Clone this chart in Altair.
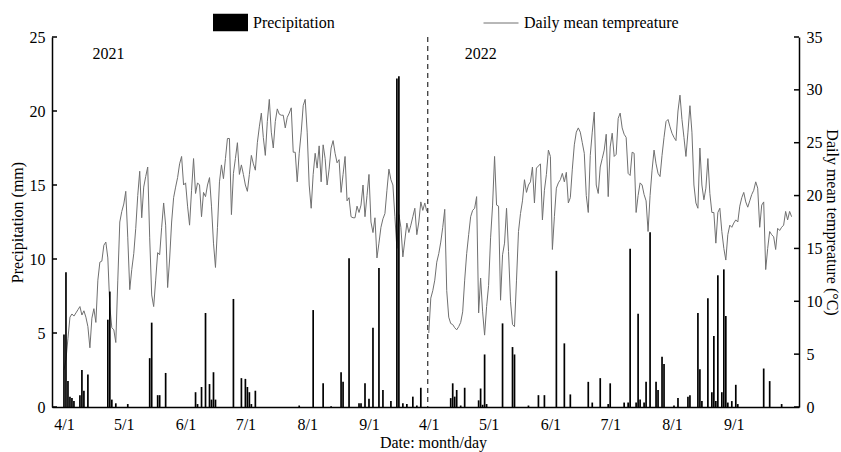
import json
import altair as alt
import pandas as pd

# ---------------- data ----------------
# daily mean temperature, 1 Apr .. 30 Sep (183 days per season)
temp_2021 = [
    3.5, 4.5, 6.5, 8.5, 8.8, 8.6, 8.9, 9.2, 9.5, 8.7,
    9.1, 8.5, 7.6, 5.6, 8.4, 9.3, 8.0, 12.0, 13.7, 13.8,
    15.3, 15.6, 14.1, 9.5, 7.5, 7.3, 6.1, 12.0, 17.5, 18.5,
    19.2, 20.4, 16.0, 11.1, 13.0, 14.5, 16.9, 20.0, 22.3, 17.9,
    20.8, 21.8, 22.7, 16.0, 10.6, 9.5, 12.0, 14.6, 14.4, 17.0,
    19.3, 17.2, 11.3, 14.0, 17.5, 19.8, 20.8, 21.7, 23.0, 23.7,
    21.0, 21.2, 19.0, 17.2, 20.5, 23.5, 20.2, 21.2, 21.0, 18.0,
    20.3, 19.9, 21.0, 21.7, 19.0, 15.5, 13.2, 17.0, 21.3, 22.9,
    21.6, 23.5, 25.4, 25.4, 18.2, 22.1, 23.5, 25.0, 22.0, 22.9,
    22.0, 21.0, 20.4, 22.0, 23.8, 23.0, 22.4, 25.0, 26.5, 27.8,
    25.5, 23.8, 27.0, 29.1, 26.0, 24.5, 27.0, 28.2, 27.7, 27.6,
    27.6, 26.4, 27.4, 27.8, 28.3, 24.1, 24.1, 21.3, 24.0, 26.0,
    28.5, 29.1, 26.0, 21.0, 18.8, 22.0, 24.0, 22.6, 24.7, 21.3,
    24.8, 23.5, 21.0, 22.5, 24.5, 25.2, 24.0, 23.1, 23.4, 20.3,
    22.0, 23.7, 19.5, 19.8, 18.0, 17.9, 17.9, 19.0, 18.4, 19.1,
    21.0, 18.0, 20.0, 22.0, 17.5, 16.5, 17.9, 14.1, 15.5, 17.0,
    17.8, 18.3, 20.5, 22.5, 21.5, 21.0, 18.0, 15.0, 18.2, 17.0,
    14.2, 15.8, 17.4, 16.5, 17.2, 18.0, 18.8, 16.3, 17.5, 19.4,
    18.6, 19.3, 18.5,
]
temp_2022 = [
    7.0, 10.3, 11.0, 12.0, 13.7, 14.5, 15.6, 17.0, 18.7, 11.0,
    8.5, 7.9, 7.8, 7.5, 7.3, 7.6, 8.0, 9.0, 12.0, 14.5,
    16.3, 18.0, 18.6, 18.8, 19.9, 8.9, 12.2, 9.0, 6.8, 9.5,
    11.5, 16.0, 19.1, 23.7, 19.1, 19.0, 10.1, 14.4, 15.5, 18.8,
    14.7, 10.0, 7.8, 7.6, 12.0, 16.6, 18.3, 19.5, 21.5, 20.3,
    21.0, 21.3, 22.7, 19.3, 22.6, 22.8, 23.0, 17.7, 20.5, 22.0,
    24.3, 23.7, 14.9, 18.0, 20.7, 21.2, 21.5, 22.1, 21.3, 22.2,
    19.3, 19.8, 22.5, 24.8, 26.0, 26.4, 26.0, 25.0, 24.0, 20.0,
    18.4, 23.8, 26.0, 27.9, 21.0, 20.2, 22.7, 23.5, 24.3, 25.8,
    19.9, 24.6, 25.9, 23.7, 23.9, 27.3, 27.8, 26.4, 25.8, 25.5,
    22.1, 21.9, 24.1, 24.0, 18.4, 20.0, 21.2, 21.0, 20.1, 19.5,
    16.6, 20.0, 22.4, 24.3, 23.0, 22.1, 21.8, 23.8, 25.5, 27.0,
    27.2, 26.5, 25.9, 25.5, 25.2, 28.0, 29.5, 27.2, 25.5, 23.7,
    26.0, 28.5, 26.0, 21.0, 19.3, 18.8, 24.5, 21.0, 19.6, 20.7,
    23.5, 20.2, 18.4, 18.4, 15.5, 18.4, 18.8, 16.6, 15.0, 13.9,
    16.3, 17.2, 17.0, 17.4, 17.7, 17.5, 19.0, 19.8, 20.3, 19.4,
    18.9, 19.5, 20.1, 20.5, 21.3, 20.7, 17.0, 19.1, 19.4, 13.0,
    15.0, 16.6, 16.3, 16.1, 14.9, 16.9, 16.7, 17.0, 17.2, 18.5,
    17.7, 18.5, 18.0,
]

# precipitation: day of season (0 = 1 Apr) and amount (mm)
rain_2021_day = [0, 1, 2, 3, 4, 5, 8, 9, 10, 12, 22, 23, 24, 26, 32, 43, 44, 47, 48, 51,
                 66, 67, 69, 71, 73, 74, 75, 76, 85, 89, 91, 92, 93, 94, 96, 118,
                 125, 130, 134, 139, 140, 143, 148, 149, 151, 153, 155, 158, 160, 164,
                 167, 168, 170, 172, 175, 177, 179]
rain_2021_mm = [4.9, 9.1, 1.75, 0.7, 0.6, 0.4, 0.8, 2.5, 1.1, 2.2, 5.9, 7.8, 0.5, 0.25, 0.2, 3.3, 5.7, 0.8, 0.8, 2.3,
                1.0, 0.2, 1.35, 6.35, 1.55, 0.5, 2.35, 0.5, 7.3, 1.95, 1.9, 1.35, 1.0, 0.2, 1.1, 0.1,
                6.55, 1.6, 0.05, 2.35, 1.7, 10.05, 0.25, 0.25, 1.6, 0.55, 5.35, 9.4, 1.15, 0.4,
                22.2, 22.35, 0.25, 0.2, 0.7, 0.1, 1.3]
rain_2022_day = [11, 12, 13, 14, 16, 18, 25, 26, 27, 28, 29, 37, 42, 43, 50, 55, 58,
                 64, 68, 71, 80, 82, 86, 90, 91, 98, 100, 101, 104, 105, 106, 108, 109,
                 111, 114, 115, 117, 118, 123, 125, 130, 131, 135, 136, 137, 140, 142,
                 143, 144, 145, 147, 148, 149, 150, 152, 154, 155, 168, 171, 177]
rain_2022_mm = [0.6, 1.6, 0.7, 1.15, 0.1, 1.3, 0.45, 1.25, 0.15, 3.55, 0.2, 5.65, 4.05, 3.55, 0.1, 0.8, 0.8,
                9.2, 4.3, 0.85, 1.7, 0.3, 1.95, 0.2, 1.6, 0.3, 0.3, 10.7, 0.3, 6.3, 0.5, 0.3, 1.7,
                11.8, 1.7, 1.15, 3.4, 2.9, 0.1, 0.6, 0.7, 0.8, 6.35, 2.55, 0.4, 7.35, 1.0,
                4.8, 0.4, 8.9, 1.0, 9.3, 6.15, 0.3, 0.4, 1.5, 0.2, 2.6, 1.75, 0.2]

tick_days = [0, 30, 61, 91, 122, 153, 183, 213, 244, 274, 305, 336]
tick_labels = ["4/1", "5/1", "6/1", "7/1", "8/1", "9/1",
               "4/1", "5/1", "6/1", "7/1", "8/1", "9/1"]
precip_ticks = [0, 5, 10, 15, 20, 25]
temp_ticks = [0, 5, 10, 15, 20, 25, 30, 35]
years = ["2021", "2022"]
series = ["Precipitation", "Daily mean tempreature"]
season_len = 183

# ---------------- tables ----------------
temp_df = pd.DataFrame({
    "day": list(range(season_len)) + [season_len + i for i in range(season_len)],
    "temp": temp_2021 + temp_2022,
    "year": [years[0]] * season_len + [years[1]] * season_len,
    "series": series[1],
})
rain_df = pd.DataFrame({
    "day": rain_2021_day + [season_len + d for d in rain_2022_day],
    "rain": rain_2021_mm + rain_2022_mm,
    "series": series[0],
})

FONT = "Liberation Serif"
W, H = 747, 370
xscale = alt.Scale(domain=[-3.5, 366.2], nice=False, zero=False)
pscale = alt.Scale(domain=[0, 25], nice=False, zero=True)
tscale = alt.Scale(domain=[0, 35], nice=False, zero=True)

label_expr = "%s[indexof(%s, datum.value)]" % (json.dumps(tick_labels), json.dumps(tick_days))

x_enc = alt.X("day:Q", scale=xscale,
              axis=alt.Axis(values=tick_days, labelExpr=label_expr, title="Date: month/day",
                            labelPadding=9, titlePadding=2, titleX=381,
                            labelFlush=False, labelOverlap=False))

line = alt.Chart(temp_df).mark_line(strokeWidth=1).encode(
    x=x_enc,
    y=alt.Y("temp:Q", scale=tscale,
            axis=alt.Axis(orient="right", values=temp_ticks, title="Daily mean tempreature (°C)",
                          labelPadding=7, titlePadding=1)),
    detail="year:N",
    stroke=alt.Stroke("series:N", scale=alt.Scale(domain=[series[1]], range=["#707070"]),
                      legend=alt.Legend(title=None, orient="none", legendX=431, legendY=-32,
                                        symbolType="stroke", symbolSize=1225, symbolStrokeWidth=1,
                                        labelOffset=5, padding=0)),
)

bars = alt.Chart(rain_df).mark_bar(size=1.7).encode(
    x=alt.X("day:Q", scale=xscale),
    y=alt.Y("rain:Q", scale=pscale,
            axis=alt.Axis(orient="left", values=precip_ticks, title="Precipitation (mm)",
                          labelPadding=7, titlePadding=4)),
    fill=alt.Fill("series:N", scale=alt.Scale(domain=[series[0]], range=["black"]),
                  legend=alt.Legend(title=None, orient="none", legendX=161, legendY=-32,
                                    symbolType="M-1,-0.5H1V0.5H-1Z", symbolSize=1225,
                                    symbolStrokeWidth=0, labelOffset=5, padding=0)),
)

left_ticks = alt.Chart(pd.DataFrame({"v": precip_ticks})).mark_rule(color="black", strokeWidth=1.5).encode(
    y=alt.Y("v:Q", scale=pscale, axis=None), x=alt.value(0), x2=alt.value(5))
right_ticks = alt.Chart(pd.DataFrame({"v": temp_ticks})).mark_rule(color="black", strokeWidth=1.5).encode(
    y=alt.Y("v:Q", scale=tscale, axis=None), x=alt.value(W - 5), x2=alt.value(W))

one = pd.DataFrame({"a": [0]})
divider = alt.Chart(one).mark_rule(color="black", strokeWidth=1, strokeDash=[5, 4]).encode(
    x=alt.XDatum(182.5, scale=xscale))

txt_2021 = alt.Chart(one).mark_text(font=FONT, fontSize=16, align="center", baseline="middle", color="black").encode(
    x=alt.XDatum(22.3, scale=xscale), y=alt.YDatum(23.85, scale=pscale, axis=None), text=alt.value(years[0]))
txt_2022 = alt.Chart(one).mark_text(font=FONT, fontSize=16, align="center", baseline="middle", color="black").encode(
    x=alt.XDatum(209.1, scale=xscale), y=alt.YDatum(23.85, scale=pscale, axis=None), text=alt.value(years[1]))

chart = alt.layer(line, bars, left_ticks, right_ticks, divider, txt_2021, txt_2022).resolve_scale(
    y="independent", fill="independent", stroke="independent"
).properties(
    width=W, height=H,
    autosize=alt.AutoSizeParams(type="none"),
    padding={"left": 52, "top": 37, "right": 42, "bottom": 45},
    background="white",
).configure_view(stroke=None).configure_axis(
    labelFont=FONT, titleFont=FONT, labelFontSize=16, titleFontSize=16, titleFontWeight="normal",
    labelColor="black", titleColor="black", domainColor="black", domainWidth=1.5,
    grid=False, ticks=False,
).configure_legend(labelFont=FONT, labelFontSize=16, labelColor="black")

chart.save("out.html", embed_options={"renderer": "svg", "actions": False})
